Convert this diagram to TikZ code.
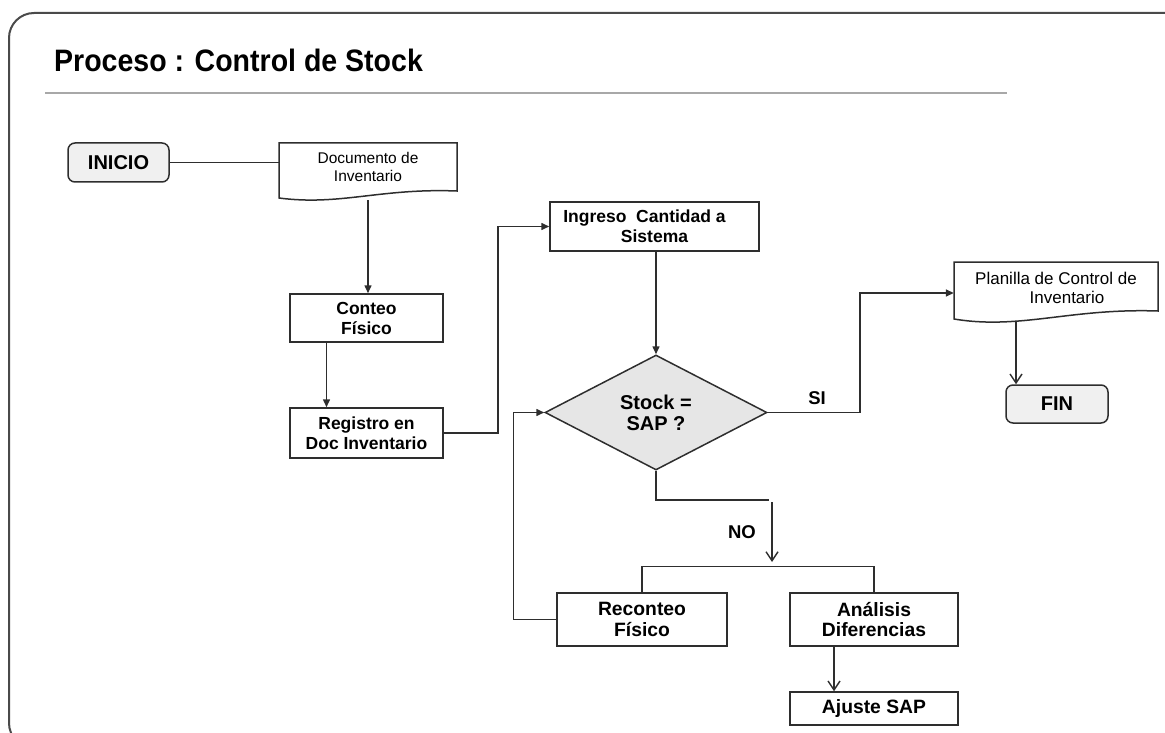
\documentclass[tikz,border=0pt]{standalone}
\usepackage{fontspec}
\setmainfont{Liberation Sans}
\newfontfamily\titlefont[FakeStretch=0.92]{Liberation Sans}
\usetikzlibrary{arrows.meta,shapes.geometric}
\definecolor{ink}{HTML}{2E2E2E}
\definecolor{frame}{HTML}{4A4A4A}
\definecolor{rule}{HTML}{A8A8A8}
\definecolor{termfill}{HTML}{F0F0F0}
\definecolor{diafill}{HTML}{E6E6E6}
\tikzset{
  procbox/.style={draw=ink, line width=1.5pt, rectangle, inner sep=0pt, align=center, font=\bfseries\fontsize{17.5}{20}\selectfont},
  bigbox/.style={procbox, font=\bfseries\fontsize{19.3}{20.5}\selectfont},
  termbox/.style={draw=ink, line width=1.5pt, rounded corners=7pt, fill=termfill, inner sep=0pt, font=\bfseries\fontsize{20}{22}\selectfont},
  doctext/.style={inner sep=0pt, align=center, font=\fontsize{15.5}{18.5}\selectfont},
  docshape/.style={draw=ink, line width=1.5pt, fill=white},
  conn/.style={draw=ink, line width=1.5pt},
  arr/.style={conn, -{Triangle[length=8pt,width=7pt]}},
  openarr/.style={conn, -{Straight Barb[length=9pt,width=12pt,line width=1.4pt]}},
  lbl/.style={inner sep=0pt, font=\bfseries\fontsize{18.5}{20}\selectfont}
}
\begin{document}
\begin{tikzpicture}[x=1pt,y=-1pt]
\useasboundingbox (0,0) rectangle (1165,733);
\begin{scope}
\clip (0,0) rectangle (1165,733);
\draw[frame, line width=2pt, rounded corners=25pt] (9,13) rectangle (1195,748);
\end{scope}
% title
\node[anchor=base west, inner sep=0pt, font=\titlefont\bfseries\fontsize{31}{33}\selectfont] (title) at (54,72) {Proceso : Control de Stock};
\draw[rule, line width=1.5pt] (45,93) -- (1007,93);

% document shapes
\draw[docshape] (279,143) -- (457,143) -- (457,191) .. controls (380,188) and (340,206) .. (279,198) -- cycle;
\node[doctext, minimum width=178pt, minimum height=48pt] (doc) at (368,167) {Documento de\\Inventario};
\coordinate (docb) at (368,200);

\draw[docshape] (954,262) -- (1158,262) -- (1158,311) .. controls (1070,308) and (1020,330) .. (954,319) -- cycle;
\node[doctext, font=\fontsize{17}{19}\selectfont, minimum width=204pt, minimum height=49pt] (plan) at (1056,287.5) {Planilla de Control de\\\hspace*{22pt}Inventario};
\coordinate (planb) at (1016,321);

% terminals
\node[termbox, minimum width=101pt, minimum height=39pt] (inicio) at (118.5,162.5) {INICIO};
\node[termbox, minimum width=102pt, minimum height=38pt] (fin) at (1057,404) {FIN};

% processes
\node[procbox, minimum width=153pt, minimum height=48pt] (conteo) at (366.5,318) {Conteo\\Físico};
\node[procbox, minimum width=153pt, minimum height=50pt] (registro) at (366.5,433) {Registro en\\Doc Inventario};
\node[procbox, minimum width=209pt, minimum height=49pt] (ingreso) at (654.5,226.5) {Ingreso\ \ Cantidad a\hspace*{20pt}\\Sistema};
\node[diamond, draw=ink, line width=1.5pt, fill=diafill, minimum width=222pt, minimum height=115pt, inner sep=0pt, align=center, font=\bfseries\fontsize{20}{21}\selectfont] (dia) at (656,412.5) {Stock =\\SAP ?};
\node[bigbox, minimum width=170pt, minimum height=53pt] (reconteo) at (642,619.5) {Reconteo\\Físico};
\node[bigbox, minimum width=168pt, minimum height=53pt] (analisis) at (874,619.5) {Análisis\\Diferencias};
\node[bigbox, minimum width=168pt, minimum height=33pt] (ajuste) at (874,708.5) {Ajuste SAP};

% labels
\node[lbl] (si) at (817,398) {SI};
\node[lbl] (no) at (742,532) {NO};

% connectors
\draw[conn] (inicio.east) -- (inicio.east -| doc.west);
\draw[arr] (docb) -- (conteo.north -| docb);
\draw[arr] ([xshift=-40pt]conteo.south) -- ([xshift=-40pt]registro.north);
\draw[arr] (registro.east) -- ++(54,0) |- (ingreso.west);
\draw[arr] (ingreso.south -| dia.north) -- (dia.north);
\draw[arr] (dia.east) -- (860,412.5) |- ([yshift=-5.5pt]plan.west);
\draw[openarr] (planb) -- (fin.north -| planb);
\coordinate (nojoint) at (769,500);
\coordinate (nostart) at (772,502);
\coordinate (noend) at (772,562);
\draw[conn] (dia.south) |- (nojoint);
\draw[openarr] (nostart) -- (noend);
\draw[conn] (reconteo.north) -- ++(0,-26) -| (analisis.north);
\draw[arr] (reconteo.west) -- ++(-43,0) |- (dia.west);
\draw[openarr] ([xshift=-40pt]analisis.south) -- ([xshift=-40pt]ajuste.north);
\end{tikzpicture}
\end{document}
